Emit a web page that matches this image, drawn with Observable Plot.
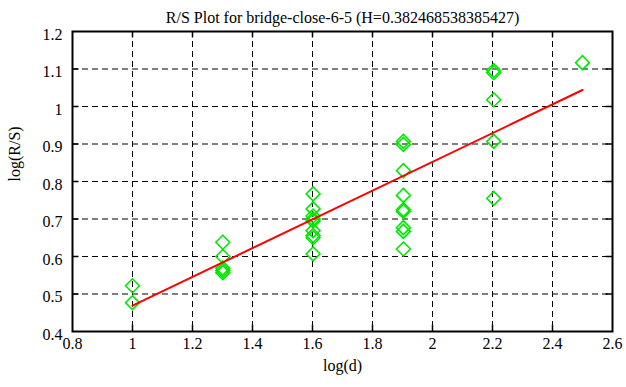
<!DOCTYPE html>
<html><head><meta charset="utf-8">
<script src="https://cdn.jsdelivr.net/npm/d3@7"></script>
<script src="https://cdn.jsdelivr.net/npm/@observablehq/plot@0.6"></script>
<style>body{margin:0;background:#fff}</style>
</head><body><div id="chart"></div>
<script>
const title = "R/S Plot for bridge-close-6-5 (H=0.382468538385427)";
const xLabel = "log(d)";
const yLabel = "log(R/S)";
const xTicks = [0.8, 1, 1.2, 1.4, 1.6, 1.8, 2, 2.2, 2.4, 2.6];
const yTicks = [0.4, 0.5, 0.6, 0.7, 0.8, 0.9, 1, 1.1, 1.2];
const pointX = [1, 1,
  1.301, 1.301, 1.301, 1.301, 1.301,
  1.602, 1.602, 1.602, 1.602, 1.602, 1.602, 1.602, 1.602, 1.602,
  1.903, 1.903, 1.903, 1.903, 1.903, 1.903, 1.903, 1.903, 1.903,
  2.204, 2.204, 2.204, 2.204, 2.204,
  2.5];
const pointY = [0.522, 0.477,
  0.638, 0.600, 0.569, 0.563, 0.557,
  0.767, 0.727, 0.708, 0.700, 0.695, 0.669, 0.656, 0.650, 0.607,
  0.907, 0.899, 0.829, 0.763, 0.725, 0.720, 0.677, 0.667, 0.620,
  1.096, 1.090, 1.018, 0.907, 0.755,
  1.117];
const fitX = [1, 2.5];
const fitY = [0.469, 1.044];

const points = pointX.map((x, i) => ({x, y: pointY[i]}));
const fit = fitX.map((x, i) => ({x, y: fitY[i]}));
const xInner = xTicks.slice(1, -1);
const yInner = yTicks.slice(1, -1);
const font = "Liberation Serif";

const chart = Plot.plot({
  width: 626,
  height: 387,
  marginLeft: 72,
  marginRight: 14,
  marginTop: 31,
  marginBottom: 56,
  style: {fontFamily: font, fontSize: "16px", background: "#fff"},
  x: {domain: [0.8, 2.6], axis: null},
  y: {domain: [0.4, 1.2], axis: null},
  marks: [
    Plot.ruleX(xInner, {stroke: "black", strokeWidth: 1, strokeDasharray: "6,4"}),
    Plot.ruleY(yInner, {stroke: "black", strokeWidth: 1, strokeDasharray: "6,4"}),
    Plot.ruleX(xInner, {stroke: "black", strokeWidth: 1.5, insetTop: 293.5}),
    Plot.ruleX(xInner, {stroke: "black", strokeWidth: 1.5, insetBottom: 293.5}),
    Plot.ruleY(yInner, {stroke: "black", strokeWidth: 1.5, insetRight: 533.5}),
    Plot.ruleY(yInner, {stroke: "black", strokeWidth: 1.5, insetLeft: 533.5}),
    Plot.dot(points, {x: "x", y: "y", symbol: "diamond2", r: 6.3, stroke: "#00e600", strokeWidth: 1.5, fill: "none"}),
    Plot.line(fit, {x: "x", y: "y", stroke: "#ff0000", strokeWidth: 2}),
    Plot.frame({stroke: "black", strokeWidth: 2}),
    Plot.text(xTicks, {x: d => d, frameAnchor: "bottom", dy: 17, text: d => String(d), fontSize: 16, fontFamily: font, fill: "black"}),
    Plot.text(yTicks, {y: d => d, frameAnchor: "left", dx: -10, dy: 3, textAnchor: "end", text: d => String(d), fontSize: 16, fontFamily: font, fill: "black"}),
    Plot.text([title], {frameAnchor: "top", dy: -20, text: d => d, fontSize: 16, fontFamily: font, fill: "black"}),
    Plot.text([xLabel], {frameAnchor: "bottom", dy: 39, text: d => d, fontSize: 16, fontFamily: font, fill: "black"}),
    Plot.text([yLabel], {frameAnchor: "left", dx: -58, rotate: -90, text: d => d, fontSize: 16, fontFamily: font, fill: "black"})
  ]
});
document.getElementById("chart").append(chart);
</script>
</body></html>
